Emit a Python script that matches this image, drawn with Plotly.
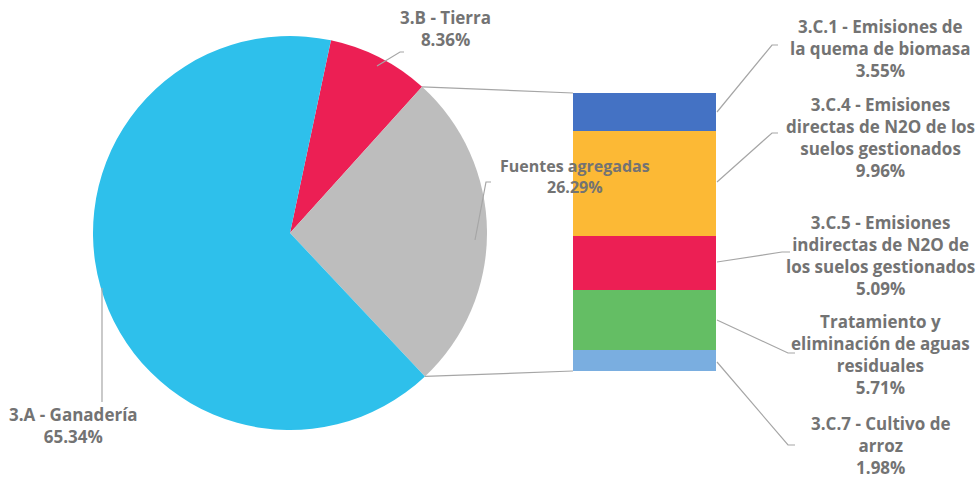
import math
import plotly.graph_objects as go

W, H = 979, 478

# main pie
pie_labels = ["3.B - Tierra", "Fuentes agregadas", "3.A - Ganadería"]
pie_values = [8.36, 26.29, 65.34]
pie_colors = ["#ec1f54", "#bdbdbd", "#2ec0eb"]

# breakdown of "Fuentes agregadas" (top to bottom in the bar)
sub_labels = [
    "3.C.1 - Emisiones de<br>la quema de biomasa",
    "3.C.4 - Emisiones<br>directas de N2O de los<br>suelos gestionados",
    "3.C.5 - Emisiones<br>indirectas de N2O de<br>los suelos gestionados",
    "Tratamiento y<br>eliminación de aguas<br>residuales",
    "3.C.7 - Cultivo de<br>arroz",
]
sub_values = [3.55, 9.96, 5.09, 5.71, 1.98]
sub_colors = ["#4472c4", "#fcb935", "#ec1f54", "#64be64", "#7aaee0"]

TXT = "#737373"
LINE = "#a6a6a6"
FONT = "Open Sans"

def px(x, y):
    # page pixel -> paper coords
    return x / W, 1 - y / H

# pie geometry (pixels)
cx, cy, R = 290, 233, 197
rot = 12

fig = go.Figure()
(dx0, dy1), (dx1, dy0) = px(cx - R, cy - R), px(cx + R, cy + R)
fig.add_trace(go.Pie(
    labels=pie_labels, values=pie_values, sort=False, direction="clockwise",
    rotation=rot, marker=dict(colors=pie_colors), textinfo="none",
    domain=dict(x=[dx0, dx1], y=[dy0, dy1]),
    showlegend=False,
))

# stacked bar, bottom segment first
for lab, val, col in reversed(list(zip(sub_labels, sub_values, sub_colors))):
    fig.add_trace(go.Bar(x=[0], y=[val], width=1, marker=dict(color=col, line=dict(width=0)),
                         name=lab, showlegend=False, xaxis="x", yaxis="y"))

bx0, bx1, by0, by1 = 573, 716, 93, 371
(bpx0, bpy1), (bpx1, bpy0) = px(bx0, by0), px(bx1, by1)
total = sum(sub_values)
fig.update_layout(
    barmode="stack",
    xaxis=dict(domain=[bpx0, bpx1], range=[-0.5, 0.5], visible=False, fixedrange=True),
    yaxis=dict(domain=[bpy0, bpy1], range=[0, total], visible=False, fixedrange=True),
)

shapes = []
# connectors pie -> bar
a1 = math.radians(rot + 360 * pie_values[0] / 100)
a2 = math.radians(rot + 360 * (pie_values[0] + pie_values[1]) / 100)
p1 = (cx + R * math.sin(a1), cy - R * math.cos(a1))
p2 = (cx + R * math.sin(a2), cy - R * math.cos(a2))
for (xa, ya), (xb, yb) in [(p1, (bx0, by0)), (p2, (bx0, by1))]:
    (x0, y0), (x1, y1) = px(xa, ya), px(xb, yb)
    shapes.append(dict(type="line", xref="paper", yref="paper", x0=x0, y0=y0, x1=x1, y1=y1,
                       line=dict(color=LINE, width=1.2)))

def leader(points):
    pts = [px(x, y) for x, y in points]
    path = "M " + " L ".join(f"{x},{y}" for x, y in pts)
    shapes.append(dict(type="path", xref="paper", yref="paper", path=path,
                       line=dict(color=LINE, width=1.2)))

leader([(377, 66), (400, 52), (404, 52)])
leader([(475, 240), (486, 182), (491, 182)])
leader([(102, 288), (102, 402)])
leader([(717, 112), (772, 45), (778, 45)])
leader([(717, 182), (772, 133), (778, 133)])
leader([(717, 262), (782, 252), (790, 252)])
leader([(717, 320), (788, 353), (795, 353)])
leader([(717, 362), (788, 445), (795, 445)])

annotations = []
def label(text, x, y, size=17):
    ax, ay = px(x, y)
    annotations.append(dict(text="<b>" + text + "</b>", x=ax, y=ay, xref="paper", yref="paper",
                            showarrow=False, align="center", xanchor="center", yanchor="middle",
                            font=dict(family=FONT, size=size, color=TXT)))

label(f"{pie_labels[0]}<br>{pie_values[0]:.2f}%", 445, 28)
label(f"{pie_labels[1]}<br>{pie_values[1]:.2f}%", 575, 176, size=16)
label(f"{pie_labels[2]}<br>{pie_values[2]:.2f}%", 73, 425)
sub_y = [48, 137, 255, 354, 445]
for lab, val, y in zip(sub_labels, sub_values, sub_y):
    label(f"{lab}<br>{val:.2f}%", 880, y)

fig.update_layout(
    width=W, height=H, margin=dict(l=0, r=0, t=0, b=0),
    paper_bgcolor="white", plot_bgcolor="white",
    shapes=shapes, annotations=annotations,
)

fig.write_html("out.html", config={"displayModeBar": False},
               post_script=["document.body.style.margin='0';"])
